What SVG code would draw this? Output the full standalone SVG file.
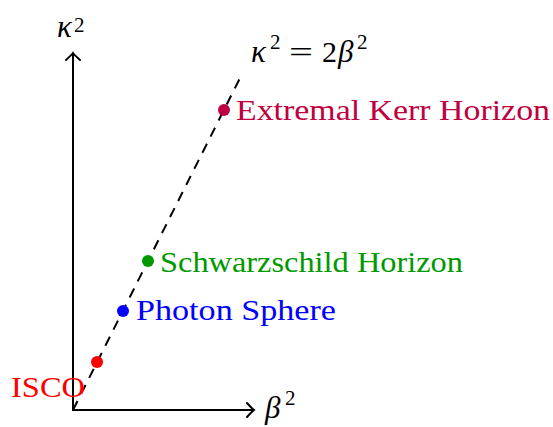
<svg xmlns="http://www.w3.org/2000/svg" width="553" height="427" viewBox="0 0 553 427">
<defs>
<marker id="arr" viewBox="-10 -10 20 20" markerWidth="20" markerHeight="20" refX="0" refY="0" orient="auto" markerUnits="userSpaceOnUse">
<path d="M -6 -7 Q -1 -1.5 1 0 Q -1 1.5 -6 7" fill="none" stroke="#000" stroke-width="2" stroke-linecap="round"/>
</marker>
</defs>
<style>
.ax{stroke:#000;stroke-width:2;fill:none}
.dash{stroke:#000;stroke-width:2;stroke-dasharray:10 8;fill:none}
.t{font-family:"Liberation Serif","Times New Roman",serif;font-size:30px}
.m{font-family:"Liberation Serif","Times New Roman",serif;font-style:italic;font-size:31px}
.sup{font-family:"Liberation Serif","Times New Roman",serif;font-style:normal;font-size:21px}
</style>
<rect width="553" height="427" fill="#fff"/>
<g id="connectors">
<line class="ax" x1="73" y1="410" x2="73" y2="54" marker-end="url(#arr)"/>
<line class="ax" x1="72" y1="410" x2="253" y2="410" marker-end="url(#arr)"/>
<line class="dash" x1="73" y1="410" x2="240" y2="78"/>
</g>
<g id="axis-labels">
<text class="m" x="57" y="37">κ</text><text class="sup" x="74" y="32">2</text>
<text class="m" x="265" y="418">β</text><text class="sup" x="285" y="405">2</text>
<text class="m" x="251" y="62">κ</text><text class="sup" x="270" y="49">2</text>
<text class="t" x="289" y="62" textLength="24" lengthAdjust="spacingAndGlyphs">=</text>
<text class="t" x="322" y="62">2</text>
<text class="m" x="338" y="62">β</text><text class="sup" x="357" y="49">2</text>
</g>
<g id="isco">
<circle cx="97" cy="362" r="6" fill="#ff0000"/>
<text class="t" x="11" y="397" fill="#ff0000" textLength="74" lengthAdjust="spacingAndGlyphs">ISCO</text>
</g>
<g id="photon-sphere">
<circle cx="123" cy="311" r="6" fill="#0000ff"/>
<text class="t" x="136" y="320" fill="#0000ff" textLength="200" lengthAdjust="spacingAndGlyphs">Photon Sphere</text>
</g>
<g id="schwarzschild">
<circle cx="148" cy="261" r="6" fill="#009900"/>
<text class="t" x="160" y="272" fill="#009900" textLength="303" lengthAdjust="spacingAndGlyphs">Schwarzschild Horizon</text>
</g>
<g id="extremal-kerr">
<circle cx="224" cy="110" r="6" fill="#bf0040"/>
<text class="t" x="236" y="120" fill="#bf0040" textLength="314" lengthAdjust="spacingAndGlyphs">Extremal Kerr Horizon</text>
</g>
</svg>
